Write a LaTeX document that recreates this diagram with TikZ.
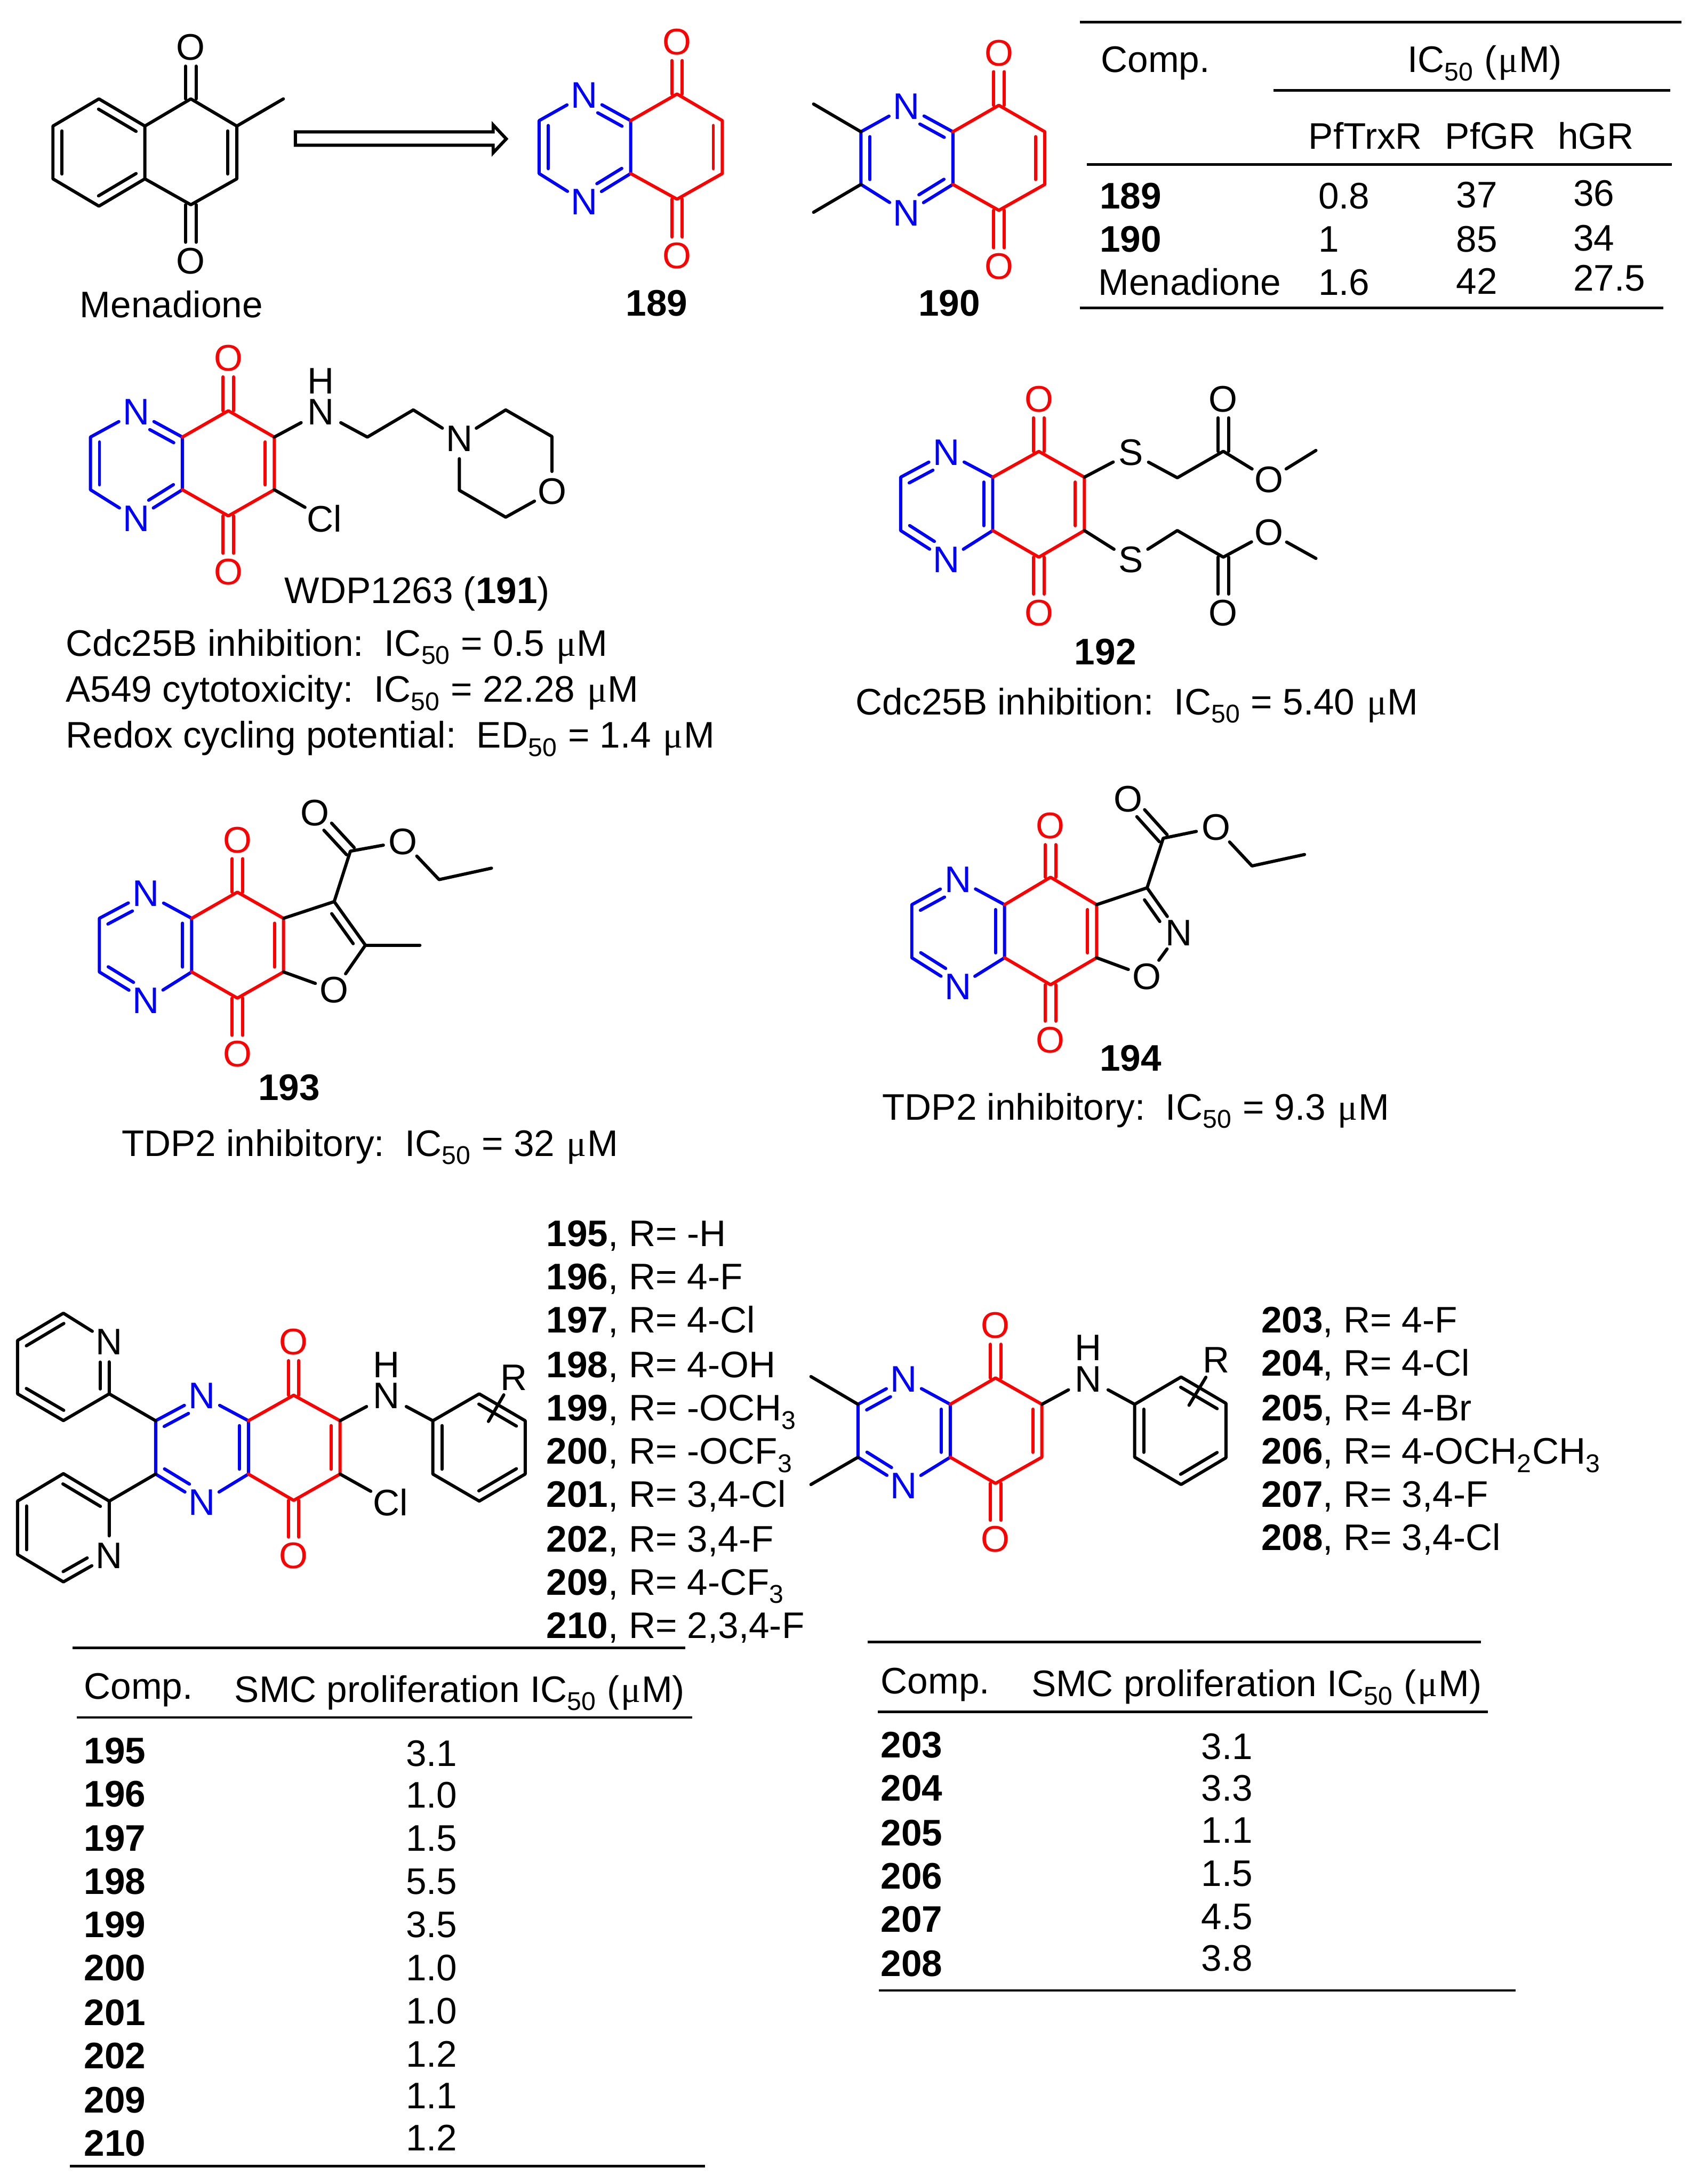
\documentclass[tikz,border=0pt]{standalone}
\usepackage{fontspec}
\setmainfont{Liberation Sans}
\newfontfamily\muface{Liberation Serif}
\usetikzlibrary{calc}
\newcommand{\inbond}[5][]{\draw[bond,#1] ($(#2)!#4!(#3)!0.13cm!90:(#3)$) -- ($(#3)!#5!(#2)!0.13cm!-90:(#2)$);}
\newcommand{\cobond}[3][]{\draw[bond,#1] ($(#2)!0.075cm!90:(#3)$) -- ($(#3)!0.27cm!(#2)!0.075cm!-90:(#2)$);
	\draw[bond,#1] ($(#2)!0.075cm!-90:(#3)$) -- ($(#3)!0.27cm!(#2)!0.075cm!90:(#2)$);}
\newcommand{\subnum}[1]{\raisebox{-3.4pt}{\fontsize{10.5}{12}\selectfont #1}\kern0.4pt\relax}
\newcommand{\uM}{\kern0.7pt\relax{\muface μ}\kern0.3pt\relax M}
\tikzset{
	bond/.style={line width=1.3pt, line cap=round, line join=round},
	rule/.style={line width=1.05pt},
	atom/.style={circle, inner sep=0pt, minimum size=0.56cm, font=\fontsize{15.1}{18}\selectfont},
	natom/.style={atom, text=blue},
	oatom/.style={atom, text=red},
	nhatom/.style={atom, minimum size=0pt},
	hatom/.style={rectangle, inner sep=0pt, font=\fontsize{15.1}{18}\selectfont},
	lbl/.style={anchor=base west, inner sep=0pt, font=\fontsize{15.1}{18}\selectfont},
}
\begin{document}
\begin{tikzpicture}[x=0.02cm, y=-0.02cm]
	\useasboundingbox (0,0) rectangle (1218.5,1568);
	% Menadione
	\coordinate (c0t) at (137,71); \coordinate (c0b) at (137,147);
	\coordinate (f0t) at (104,90.5); \coordinate (f0b) at (104,128.4);
	\coordinate (r0t) at (170,90.5); \coordinate (r0b) at (170,128.4);
	\coordinate (b0t) at (71,71); \coordinate (b0b) at (71,148);
	\coordinate (l0t) at (38,90.5); \coordinate (l0b) at (38,128.4);
	\coordinate (me0) at (203.4,71);
	\node[atom] (o0t) at (137,34) {O};
	\node[atom] (o0b) at (137,187.4) {O};
	\draw[bond] (f0t) -- (b0t) -- (l0t) -- (l0b) -- (b0b) -- (f0b) -- cycle;
	\draw[bond] (f0t) -- (c0t) -- (r0t) -- (r0b) -- (c0b) -- (f0b);
	\draw[bond] (r0t) -- (me0);
	\inbond{l0t}{l0b}{0.07cm}{0.07cm}
	\inbond{b0b}{f0b}{0.07cm}{0.07cm}
	\inbond{f0t}{b0t}{0.07cm}{0.07cm}
	\inbond{r0b}{r0t}{0.07cm}{0.07cm}
	\cobond{c0t}{o0t}
	\cobond{c0b}{o0b}
	\node[lbl] (name0) at (57,228) {Menadione};
	% Arrow
	\coordinate (arrtail) at (212,99.5);
	\coordinate (arrhead) at (363.4,99.7);
	\draw[line width=1.3pt, line join=miter] (arrtail) ++(0,-4.8) -- ++(142,0) -- ++(0,-5) -- (arrhead) -- ++(-9.4,10) -- ++(0,-5.4) -- ++(-142,0) -- cycle;
	% 189
	\coordinate (c189t) at (486,67.5); \coordinate (c189b) at (486,143);
	\coordinate (f189t) at (452.7,86.6); \coordinate (f189b) at (452.7,124.6);
	\coordinate (r189t) at (518.5,86.6); \coordinate (r189b) at (518.5,124.6);
	\coordinate (l189t) at (387,86.6); \coordinate (l189b) at (387,124.6);
	\node[natom] (n189t) at (419.5,68.3) {N};
	\node[natom] (n189b) at (419.5,145) {N};
	\node[oatom] (o189t) at (486,30) {O};
	\node[oatom] (o189b) at (486,183.6) {O};
	\draw[bond,blue] (n189t) -- (l189t) -- (l189b) -- (n189b) -- (f189b) -- (f189t) -- (n189t);
	\draw[bond,red] (f189t) -- (c189t) -- (r189t) -- (r189b) -- (c189b) -- (f189b);
	\inbond[blue]{l189t}{l189b}{0.07cm}{0.07cm}
	\inbond[blue]{n189b}{f189b}{0.29cm}{0.07cm}
	\inbond[blue]{f189t}{n189t}{0.07cm}{0.29cm}
	\inbond[red]{r189b}{r189t}{0.07cm}{0.07cm}
	\cobond[red]{c189t}{o189t}
	\cobond[red]{c189b}{o189b}
	\node[lbl] (name189) at (449,227) {\textbf{189}};
	% 190
	\coordinate (c190t) at (717,75.6); \coordinate (c190b) at (717,151);
	\coordinate (f190t) at (684,94.6); \coordinate (f190b) at (684,132.4);
	\coordinate (r190t) at (750,94.6); \coordinate (r190b) at (750,132.4);
	\coordinate (l190t) at (618,94.6); \coordinate (l190b) at (618,132.4);
	\coordinate (me190t) at (584,74.7); \coordinate (me190b) at (584,152.4);
	\node[natom] (n190t) at (650.7,76.4) {N};
	\node[natom] (n190b) at (650.7,153) {N};
	\node[oatom] (o190t) at (717,38) {O};
	\node[oatom] (o190b) at (717,191.4) {O};
	\draw[bond,blue] (n190t) -- (l190t) -- (l190b) -- (n190b) -- (f190b) -- (f190t) -- (n190t);
	\draw[bond,red] (f190t) -- (c190t) -- (r190t) -- (r190b) -- (c190b) -- (f190b);
	\draw[bond] (l190t) -- (me190t);
	\draw[bond] (l190b) -- (me190b);
	\inbond[blue]{l190t}{l190b}{0.07cm}{0.07cm}
	\inbond[blue]{n190b}{f190b}{0.29cm}{0.07cm}
	\inbond[blue]{f190t}{n190t}{0.07cm}{0.29cm}
	\inbond[red]{r190b}{r190t}{0.07cm}{0.07cm}
	\cobond[red]{c190t}{o190t}
	\cobond[red]{c190b}{o190b}
	\node[lbl] (name190) at (659,227) {\textbf{190}};
	% Table of 189, 190
	\draw[rule] (775,16) -- (1207,16);
	\draw[rule] (914,65) -- (1199,65);
	\draw[rule] (780,118) -- (1200,118);
	\draw[rule] (775,221) -- (1194,221);
	\node[lbl] (thcomp) at (790,52) {Comp.};
	\node[lbl] (thic) at (1010,52) {IC\subnum{50} (\uM)};
	\node[lbl] (thtrx) at (939,107) {PfTrxR};
	\node[lbl] (thpf) at (1037,107) {PfGR};
	\node[lbl] (thh) at (1118,107) {hGR};
	\node[lbl] (row189) at (789,150) {\textbf{189}};
	\node[lbl] (row189a) at (946,150) {0.8};
	\node[lbl] (row189b) at (1045,149) {37};
	\node[lbl] (row189c) at (1129,148) {36};
	\node[lbl] (row190) at (789,181) {\textbf{190}};
	\node[lbl] (row190a) at (946,181) {1};
	\node[lbl] (row190b) at (1045,181) {85};
	\node[lbl] (row190c) at (1129,180) {34};
	\node[lbl] (rowmen) at (788,212) {Menadione};
	\node[lbl] (rowmena) at (946,212) {1.6};
	\node[lbl] (rowmenb) at (1045,211) {42};
	\node[lbl] (rowmenc) at (1129,209) {27.5};
	% 191
	\coordinate (c191t) at (163.9,294.9); \coordinate (c191b) at (163.9,370.4);
	\coordinate (f191t) at (130.9,313.8); \coordinate (f191b) at (130.9,351.6);
	\coordinate (r191t) at (196.9,313.8); \coordinate (r191b) at (196.9,351.6);
	\coordinate (l191t) at (64.9,313.8); \coordinate (l191b) at (64.9,351.6);
	\coordinate (ch191a) at (263.7,313.8); \coordinate (ch191b) at (296.7,294.3);
	\coordinate (mo191a) at (363,294.3); \coordinate (mo191b) at (396.2,313.4);
	\coordinate (mo191c) at (363,371.3); \coordinate (mo191d) at (329.7,352);
	\node[natom] (n191t) at (97.9,295.8) {N};
	\node[natom] (n191b) at (97.9,372.3) {N};
	\node[oatom] (o191t) at (163.9,257.1) {O};
	\node[oatom] (o191b) at (163.9,410.7) {O};
	\node[nhatom] (nh191) at (230.4,295.8) {N};
	\node[hatom] (h191) at (230.4,273.6) {H};
	\node[atom] (cl191) at (233,372.3) {Cl};
	\node[atom] (nm191) at (329.7,315) {N};
	\node[atom] (om191) at (396.2,352.8) {O};
	\draw[bond,blue] (n191t) -- (l191t) -- (l191b) -- (n191b) -- (f191b) -- (f191t) -- (n191t);
	\draw[bond,red] (f191t) -- (c191t) -- (r191t) -- (r191b) -- (c191b) -- (f191b);
	\draw[bond,shorten >=1.5pt] (r191t) -- (nh191);
	\draw[bond,shorten <=1.5pt] (nh191) -- (ch191a) -- (ch191b) -- (nm191);
	\draw[bond] (r191b) -- (cl191);
	\draw[bond] (nm191) -- (mo191a) -- (mo191b) -- (om191) -- (mo191c) -- (mo191d) -- (nm191);
	\inbond[blue]{l191t}{l191b}{0.07cm}{0.07cm}
	\inbond[blue]{n191b}{f191b}{0.29cm}{0.07cm}
	\inbond[blue]{f191t}{n191t}{0.07cm}{0.29cm}
	\inbond[red]{r191b}{r191t}{0.07cm}{0.07cm}
	\cobond[red]{c191t}{o191t}
	\cobond[red]{c191b}{o191b}
	\node[lbl] (name191) at (204,433) {WDP1263 (\textbf{191})};
	\node[lbl] (act191a) at (47,471) {Cdc25B inhibition:\ \ IC\subnum{50} = 0.5 \uM};
	\node[lbl] (act191b) at (47,504) {A549 cytotoxicity:\ \ IC\subnum{50} = 22.28 \uM};
	\node[lbl] (act191c) at (47,537) {Redox cycling potential:\ \ ED\subnum{50} = 1.4 \uM};
	% 192
	\coordinate (c192t) at (745.7,324.1); \coordinate (c192b) at (745.7,400);
	\coordinate (f192t) at (712.6,342.6); \coordinate (f192b) at (712.6,380.9);
	\coordinate (r192t) at (778.4,342.6); \coordinate (r192b) at (778.4,380.9);
	\coordinate (l192t) at (646.5,342.6); \coordinate (l192b) at (646.5,380.9);
	\coordinate (ch192t) at (845.1,343); \coordinate (ch192b) at (845.1,380.9);
	\coordinate (ce192t) at (878.1,324); \coordinate (ce192b) at (878.1,400);
	\coordinate (me192t) at (944.6,323.4); \coordinate (me192b) at (944.6,400.9);
	\node[natom] (n192t) at (679.4,325) {N};
	\node[natom] (n192b) at (679.4,402) {N};
	\node[oatom] (o192t) at (745.7,286.5) {O};
	\node[oatom] (o192b) at (745.7,440) {O};
	\node[atom] (s192t) at (811.8,325) {S};
	\node[atom] (s192b) at (811.8,402) {S};
	\node[atom] (oc192t) at (878.1,286.5) {O};
	\node[atom] (oc192b) at (878.1,440) {O};
	\node[atom] (oe192t) at (911,344.2) {O};
	\node[atom] (oe192b) at (911,382.2) {O};
	\draw[bond,blue] (n192t) -- (l192t) -- (l192b) -- (n192b) -- (f192b) -- (f192t) -- (n192t);
	\draw[bond,red] (f192t) -- (c192t) -- (r192t) -- (r192b) -- (c192b) -- (f192b);
	\draw[bond] (r192t) -- (s192t) -- (ch192t) -- (ce192t) -- (oe192t) -- (me192t);
	\draw[bond] (r192b) -- (s192b) -- (ch192b) -- (ce192b) -- (oe192b) -- (me192b);
	\inbond[blue]{n192t}{l192t}{0.29cm}{0.07cm}
	\inbond[blue]{l192b}{n192b}{0.07cm}{0.29cm}
	\inbond[blue]{f192b}{f192t}{0.07cm}{0.07cm}
	\inbond[red]{r192b}{r192t}{0.07cm}{0.07cm}
	\cobond[red]{c192t}{o192t}
	\cobond[red]{c192b}{o192b}
	\cobond{ce192t}{oc192t}
	\cobond{ce192b}{oc192b}
	\node[lbl] (name192) at (771,477) {\textbf{192}};
	\node[lbl] (act192) at (614,513) {Cdc25B inhibition:\ \ IC\subnum{50} = 5.40 \uM};
	% 193
	\coordinate (c193t) at (170.4,640.5); \coordinate (c193b) at (170.4,716.6);
	\coordinate (f193t) at (137.6,659.3); \coordinate (f193b) at (137.6,697.8);
	\coordinate (r193t) at (203.5,659.3); \coordinate (r193b) at (203.5,697.8);
	\coordinate (l193t) at (71.3,659.3); \coordinate (l193b) at (71.3,697.8);
	\coordinate (fu193a) at (239.9,647.3); \coordinate (fu193b) at (262.3,678.6);
	\coordinate (me193) at (301.4,678.6);
	\coordinate (ce193) at (251.5,611.1);
	\coordinate (ch193a) at (315.2,631.5); \coordinate (ch193b) at (352.8,623.3);
	\node[natom] (n193t) at (104.8,641.5) {N};
	\node[natom] (n193b) at (104.8,718.4) {N};
	\node[oatom] (o193t) at (170.4,603) {O};
	\node[oatom] (o193b) at (170.4,756.8) {O};
	\node[atom] (ofu193) at (239.9,710.9) {O};
	\node[atom] (oc193) at (226.1,583.6) {O};
	\node[atom] (oe193) at (289.3,604.2) {O};
	\draw[bond,blue] (n193t) -- (l193t) -- (l193b) -- (n193b) -- (f193b) -- (f193t) -- (n193t);
	\draw[bond,red] (f193t) -- (c193t) -- (r193t) -- (r193b) -- (c193b) -- (f193b);
	\draw[bond] (r193t) -- (fu193a) -- (fu193b) -- (ofu193) -- (r193b);
	\draw[bond] (fu193b) -- (me193);
	\draw[bond] (fu193a) -- (ce193) -- (oe193) -- (ch193a) -- (ch193b);
	\inbond[blue]{n193t}{l193t}{0.29cm}{0.07cm}
	\inbond[blue]{l193b}{n193b}{0.07cm}{0.29cm}
	\inbond[blue]{f193b}{f193t}{0.07cm}{0.07cm}
	\inbond[red]{r193b}{r193t}{0.07cm}{0.07cm}
	\inbond{fu193b}{fu193a}{0.12cm}{0.12cm}
	\cobond[red]{c193t}{o193t}
	\cobond[red]{c193b}{o193b}
	\cobond{ce193}{oc193}
	\node[lbl] (name193) at (185,790) {\textbf{193}};
	\node[lbl] (act193) at (87,830) {TDP2 inhibitory:\ \ IC\subnum{50} = 32 \uM};
	% 194
	\coordinate (c194t) at (754.1,629.8); \coordinate (c194b) at (754.1,707);
	\coordinate (f194t) at (721.1,649.5); \coordinate (f194b) at (721.1,687.6);
	\coordinate (r194t) at (787.2,649.5); \coordinate (r194b) at (787.2,687.6);
	\coordinate (l194t) at (654.5,649.5); \coordinate (l194b) at (654.5,687.6);
	\coordinate (is194) at (823.4,637.4);
	\coordinate (ce194) at (835,601.8);
	\coordinate (ch194a) at (898.7,621.7); \coordinate (ch194b) at (936.4,613.5);
	\node[natom] (n194t) at (687.6,631.4) {N};
	\node[natom] (n194b) at (687.6,708.5) {N};
	\node[oatom] (o194t) at (754.1,592.9) {O};
	\node[oatom] (o194b) at (754.1,746.6) {O};
	\node[atom] (nis194) at (846.2,669.7) {N};
	\node[atom] (ois194) at (823.4,701) {O};
	\node[atom] (oc194) at (809.8,573.8) {O};
	\node[atom] (oe194) at (872.8,594) {O};
	\draw[bond,blue] (n194t) -- (l194t) -- (l194b) -- (n194b) -- (f194b) -- (f194t) -- (n194t);
	\draw[bond,red] (f194t) -- (c194t) -- (r194t) -- (r194b) -- (c194b) -- (f194b);
	\draw[bond] (r194t) -- (is194) -- (nis194) -- (ois194) -- (r194b);
	\draw[bond] (is194) -- (ce194) -- (oe194) -- (ch194a) -- (ch194b);
	\inbond[blue]{n194t}{l194t}{0.29cm}{0.07cm}
	\inbond[blue]{l194b}{n194b}{0.07cm}{0.29cm}
	\inbond[blue]{f194b}{f194t}{0.07cm}{0.07cm}
	\inbond[red]{r194b}{r194t}{0.07cm}{0.07cm}
	\inbond{nis194}{is194}{0.29cm}{0.12cm}
	\cobond[red]{c194t}{o194t}
	\cobond[red]{c194b}{o194b}
	\cobond{ce194}{oc194}
	\node[lbl] (name194) at (789,769) {\textbf{194}};
	\node[lbl] (act194) at (633,804) {TDP2 inhibitory:\ \ IC\subnum{50} = 9.3 \uM};
	% 195-202, 209, 210
	\coordinate (c195t) at (210.8,1001.7); \coordinate (c195b) at (210.8,1077.2);
	\coordinate (f195t) at (178.3,1020); \coordinate (f195b) at (178.3,1058.3);
	\coordinate (r195t) at (244.1,1020); \coordinate (r195b) at (244.1,1058.3);
	\coordinate (l195t) at (111.7,1020); \coordinate (l195b) at (111.7,1058.3);
	\node[natom] (n195t) at (145,1002.2) {N};
	\node[natom] (n195b) at (145,1078.6) {N};
	\node[oatom] (o195t) at (210.8,963.4) {O};
	\node[oatom] (o195b) at (210.8,1117) {O};
	\node[nhatom] (nh195) at (277.4,1002.2) {N};
	\node[hatom] (h195) at (277.4,979.9) {H};
	\node[atom] (cl195) at (280.3,1078.6) {Cl};
	\draw[bond,blue] (n195t) -- (l195t) -- (l195b) -- (n195b) -- (f195b) -- (f195t) -- (n195t);
	\draw[bond,red] (f195t) -- (c195t) -- (r195t) -- (r195b) -- (c195b) -- (f195b);
	\draw[bond,shorten >=1.5pt] (r195t) -- (nh195);
	\draw[bond] (r195b) -- (cl195);
	\inbond[blue]{n195t}{l195t}{0.29cm}{0.07cm}
	\inbond[blue]{l195b}{n195b}{0.07cm}{0.29cm}
	\inbond[blue]{f195b}{f195t}{0.07cm}{0.07cm}
	\inbond[red]{r195b}{r195t}{0.07cm}{0.07cm}
	\cobond[red]{c195t}{o195t}
	\cobond[red]{c195b}{o195b}
	% upper pyridine
	\coordinate (ua) at (78.4,1000.7); \coordinate (ub) at (45.5,942.8);
	\coordinate (uc) at (12.6,962.4); \coordinate (ud) at (12.6,1000.7);
	\coordinate (ue) at (45.5,1019.9);
	\node[atom] (un) at (78.4,963.4) {N};
	\draw[bond] (l195t) -- (ua) -- (un) -- (ub) -- (uc) -- (ud) -- (ue) -- (ua);
	\inbond{ua}{un}{0.07cm}{0.29cm}
	\inbond{ub}{uc}{0.07cm}{0.07cm}
	\inbond{ud}{ue}{0.07cm}{0.07cm}
	% lower pyridine
	\coordinate (wa) at (78.4,1077.7); \coordinate (wb) at (45.5,1058);
	\coordinate (wc) at (12.6,1077.7); \coordinate (wd) at (12.6,1116.1);
	\coordinate (we) at (45.5,1135.7);
	\node[atom] (wn) at (78.4,1117) {N};
	\draw[bond] (l195b) -- (wa) -- (wb) -- (wc) -- (wd) -- (we) -- (wn) -- (wa);
	\inbond{wa}{wb}{0.07cm}{0.07cm}
	\inbond{wc}{wd}{0.07cm}{0.07cm}
	\inbond{we}{wn}{0.07cm}{0.29cm}
	% phenyl
	\coordinate (pa) at (310.7,1020); \coordinate (pb) at (310.7,1058.3);
	\coordinate (pc) at (344,1077.7); \coordinate (pd) at (377,1058.3);
	\coordinate (pe) at (377,1020); \coordinate (pf) at (344,1000.7);
	\coordinate (rend195) at (350.6,1020.5);
	\node[atom] (r195) at (368.8,989) {R};
	\draw[bond,shorten <=1.5pt] (nh195) -- (pa) -- (pb) -- (pc) -- (pd) -- (pe) -- (pf) -- (pa);
	\draw[bond] (r195) -- (rend195);
	\inbond{pa}{pb}{0.07cm}{0.07cm}
	\inbond{pc}{pd}{0.07cm}{0.07cm}
	\inbond{pe}{pf}{0.07cm}{0.07cm}
	\node[lbl] (s195) at (392,895) {\textbf{195}, R= -H};
	\node[lbl] (s196) at (392,926) {\textbf{196}, R= 4-F};
	\node[lbl] (s197) at (392,957) {\textbf{197}, R= 4-Cl};
	\node[lbl] (s198) at (392,989) {\textbf{198}, R= 4-OH};
	\node[lbl] (s199) at (392,1020) {\textbf{199}, R= -OCH\subnum{3}};
	\node[lbl] (s200) at (392,1051) {\textbf{200}, R= -OCF\subnum{3}};
	\node[lbl] (s201) at (392,1082) {\textbf{201}, R= 3,4-Cl};
	\node[lbl] (s202) at (392,1114) {\textbf{202}, R= 3,4-F};
	\node[lbl] (s209) at (392,1145) {\textbf{209}, R= 4-CF\subnum{3}};
	\node[lbl] (s210) at (392,1176) {\textbf{210}, R= 2,3,4-F};
	% 203-208
	\coordinate (c203t) at (714.6,989.3); \coordinate (c203b) at (714.6,1065);
	\coordinate (f203t) at (682.1,1008.2); \coordinate (f203b) at (682.1,1046.2);
	\coordinate (r203t) at (747.9,1008.2); \coordinate (r203b) at (747.9,1046.2);
	\coordinate (l203t) at (615.9,1008.2); \coordinate (l203b) at (615.9,1046.2);
	\coordinate (me203t) at (582.1,988.3); \coordinate (me203b) at (582.1,1065.8);
	\node[natom] (n203t) at (648.8,990.1) {N};
	\node[natom] (n203b) at (648.8,1066.8) {N};
	\node[oatom] (o203t) at (714.6,951.6) {O};
	\node[oatom] (o203b) at (714.6,1104.9) {O};
	\node[nhatom] (nh203) at (781.2,990.1) {N};
	\node[hatom] (h203) at (781.2,967.7) {H};
	\draw[bond,blue] (n203t) -- (l203t) -- (l203b) -- (n203b) -- (f203b) -- (f203t) -- (n203t);
	\draw[bond,red] (f203t) -- (c203t) -- (r203t) -- (r203b) -- (c203b) -- (f203b);
	\draw[bond] (l203t) -- (me203t);
	\draw[bond] (l203b) -- (me203b);
	\draw[bond,shorten >=1.5pt] (r203t) -- (nh203);
	\inbond[blue]{n203t}{l203t}{0.29cm}{0.07cm}
	\inbond[blue]{l203b}{n203b}{0.07cm}{0.29cm}
	\inbond[blue]{f203b}{f203t}{0.07cm}{0.07cm}
	\inbond[red]{r203b}{r203t}{0.07cm}{0.07cm}
	\cobond[red]{c203t}{o203t}
	\cobond[red]{c203b}{o203b}
	% phenyl
	\coordinate (qa) at (814.5,1008.2); \coordinate (qb) at (814.5,1046.2);
	\coordinate (qc) at (847.8,1065.8); \coordinate (qd) at (880,1046.6);
	\coordinate (qe) at (880,1007.5); \coordinate (qf) at (847.8,988.6);
	\coordinate (rend203) at (853.5,1008.9);
	\node[atom] (r203) at (873,976.5) {R};
	\draw[bond,shorten <=1.5pt] (nh203) -- (qa) -- (qb) -- (qc) -- (qd) -- (qe) -- (qf) -- (qa);
	\draw[bond] (r203) -- (rend203);
	\inbond{qa}{qb}{0.07cm}{0.07cm}
	\inbond{qc}{qd}{0.07cm}{0.07cm}
	\inbond{qe}{qf}{0.07cm}{0.07cm}
	\node[lbl] (s203) at (905,957) {\textbf{203}, R= 4-F};
	\node[lbl] (s204) at (905,988) {\textbf{204}, R= 4-Cl};
	\node[lbl] (s205) at (905,1020) {\textbf{205}, R= 4-Br};
	\node[lbl] (s206) at (905,1051) {\textbf{206}, R= 4-OCH\subnum{2}CH\subnum{3}};
	\node[lbl] (s207) at (905,1082) {\textbf{207}, R= 3,4-F};
	\node[lbl] (s208) at (905,1113) {\textbf{208}, R= 3,4-Cl};
	% Table of 195-202, 209, 210
	\draw[rule] (52,1183) -- (492,1183);
	\draw[rule] (55,1233) -- (497,1233);
	\draw[rule] (50,1555) -- (506,1555);
	\node[lbl] (lcomp) at (60,1220) {Comp.};
	\node[lbl] (lsmc) at (168,1222) {SMC proliferation IC\subnum{50} (\uM)};
	\node[lbl] (t195) at (60,1266) {\textbf{195}};
	\node[lbl] (t196) at (60,1297) {\textbf{196}};
	\node[lbl] (t197) at (60,1329) {\textbf{197}};
	\node[lbl] (t198) at (60,1360) {\textbf{198}};
	\node[lbl] (t199) at (60,1391) {\textbf{199}};
	\node[lbl] (t200) at (60,1422) {\textbf{200}};
	\node[lbl] (t201) at (60,1454) {\textbf{201}};
	\node[lbl] (t202) at (60,1485) {\textbf{202}};
	\node[lbl] (t209) at (60,1517) {\textbf{209}};
	\node[lbl] (t210) at (60,1548) {\textbf{210}};
	\node[lbl] (v195) at (291,1268) {3.1};
	\node[lbl] (v196) at (291,1298) {1.0};
	\node[lbl] (v197) at (291,1329) {1.5};
	\node[lbl] (v198) at (291,1360) {5.5};
	\node[lbl] (v199) at (291,1391) {3.5};
	\node[lbl] (v200) at (291,1422) {1.0};
	\node[lbl] (v201) at (291,1453) {1.0};
	\node[lbl] (v202) at (291,1484) {1.2};
	\node[lbl] (v209) at (291,1514) {1.1};
	\node[lbl] (v210) at (291,1544) {1.2};
	% Table of 203-208
	\draw[rule] (623,1179) -- (1063,1179);
	\draw[rule] (630,1229) -- (1068,1229);
	\draw[rule] (631,1429) -- (1088,1429);
	\node[lbl] (rcomp) at (632,1216) {Comp.};
	\node[lbl] (rsmc) at (740,1218) {SMC proliferation IC\subnum{50} (\uM)};
	\node[lbl] (t203) at (632,1262) {\textbf{203}};
	\node[lbl] (t204) at (632,1293) {\textbf{204}};
	\node[lbl] (t205) at (632,1325) {\textbf{205}};
	\node[lbl] (t206) at (632,1356) {\textbf{206}};
	\node[lbl] (t207) at (632,1387) {\textbf{207}};
	\node[lbl] (t208) at (632,1419) {\textbf{208}};
	\node[lbl] (v203) at (862,1263) {3.1};
	\node[lbl] (v204) at (862,1293) {3.3};
	\node[lbl] (v205) at (862,1323) {1.1};
	\node[lbl] (v206) at (862,1354) {1.5};
	\node[lbl] (v207) at (862,1385) {4.5};
	\node[lbl] (v208) at (862,1415) {3.8};
\end{tikzpicture}
\end{document}
